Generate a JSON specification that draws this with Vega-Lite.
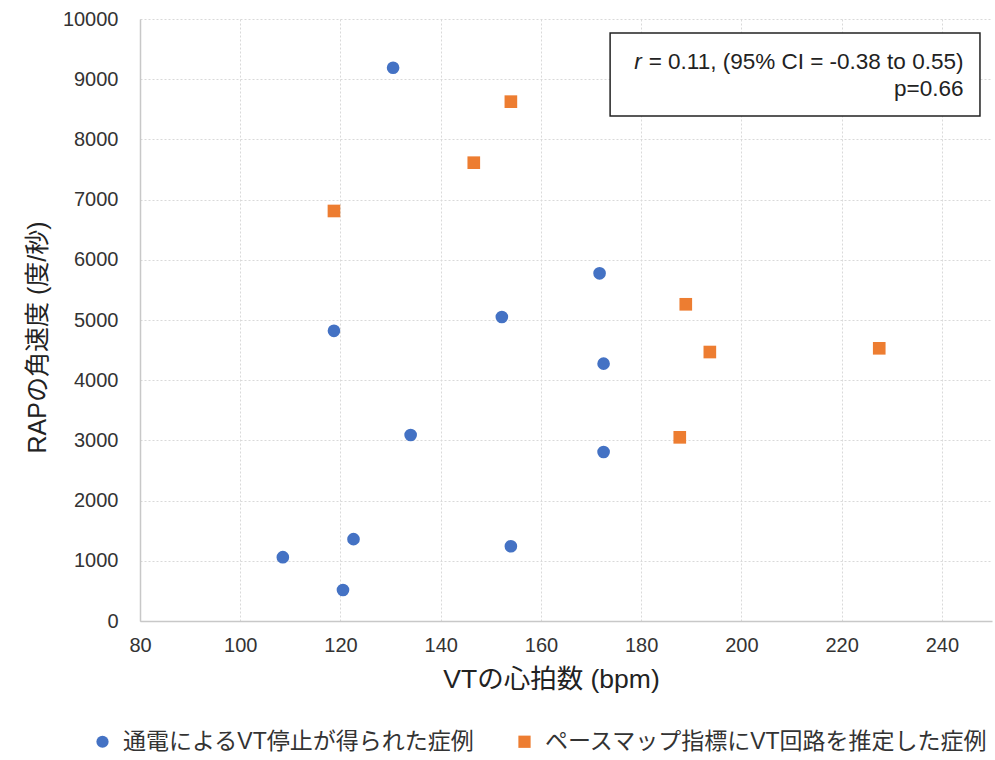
{
  "$schema": "https://vega.github.io/schema/vega-lite/v6.json",
  "width": 852,
  "height": 602,
  "autosize": {"type": "none"},
  "padding": {"left": 140, "top": 19, "right": 3, "bottom": 139},
  "background": "white",
  "config": {
    "font": "Liberation Sans, Noto Sans CJK JP",
    "view": {"stroke": null},
    "axis": {
      "gridColor": "#d9d9d9",
      "gridDash": [2, 2],
      "gridWidth": 1,
      "domainColor": "#c8c8c8",
      "domainWidth": 1.5,
      "ticks": false,
      "labelColor": "#333333",
      "labelFontSize": 20,
      "titleColor": "#222222",
      "titleFontSize": 24,
      "titleFontWeight": "normal",
      "labelFont": "Liberation Sans",
      "titleFont": "Liberation Sans, Noto Sans CJK JP",
      "labelFlush": false
    }
  },
  "layer": [
    {
      "data": {
        "values": [
          {"hr": 130.5, "rap": 9190, "group": "通電によるVT停止が得られた症例"},
          {"hr": 118.7, "rap": 4820, "group": "通電によるVT停止が得られた症例"},
          {"hr": 134.0, "rap": 3090, "group": "通電によるVT停止が得られた症例"},
          {"hr": 108.5, "rap": 1060, "group": "通電によるVT停止が得られた症例"},
          {"hr": 122.6, "rap": 1360, "group": "通電によるVT停止が得られた症例"},
          {"hr": 120.5, "rap": 515, "group": "通電によるVT停止が得られた症例"},
          {"hr": 152.2, "rap": 5050, "group": "通電によるVT停止が得られた症例"},
          {"hr": 171.7, "rap": 5775, "group": "通電によるVT停止が得られた症例"},
          {"hr": 172.5, "rap": 4275, "group": "通電によるVT停止が得られた症例"},
          {"hr": 172.5, "rap": 2807, "group": "通電によるVT停止が得られた症例"},
          {"hr": 154.0, "rap": 1241, "group": "通電によるVT停止が得られた症例"},
          {"hr": 118.7, "rap": 6811, "group": "ペースマップ指標にVT回路を推定した症例"},
          {"hr": 146.6, "rap": 7613, "group": "ペースマップ指標にVT回路を推定した症例"},
          {"hr": 154.0, "rap": 8627, "group": "ペースマップ指標にVT回路を推定した症例"},
          {"hr": 188.9, "rap": 5261, "group": "ペースマップ指標にVT回路を推定した症例"},
          {"hr": 193.7, "rap": 4468, "group": "ペースマップ指標にVT回路を推定した症例"},
          {"hr": 227.5, "rap": 4530, "group": "ペースマップ指標にVT回路を推定した症例"},
          {"hr": 187.7, "rap": 3051, "group": "ペースマップ指標にVT回路を推定した症例"}
        ]
      },
      "mark": {"type": "point", "filled": true, "opacity": 1, "size": 160},
      "encoding": {
        "x": {
          "field": "hr",
          "type": "quantitative",
          "scale": {"domain": [80, 250], "nice": false, "zero": false},
          "axis": {
            "title": "VTの心拍数 (bpm)",
            "titleFontSize": 26.5,
            "titleX": 411,
            "values": [80, 100, 120, 140, 160, 180, 200, 220, 240],
            "labelPadding": 14,
            "titlePadding": 11
          }
        },
        "y": {
          "field": "rap",
          "type": "quantitative",
          "scale": {"domain": [0, 10000], "nice": false},
          "axis": {
            "title": "RAPの角速度 (度/秒)",
            "titleFontSize": 25,
            "titleY": 318,
            "values": [0, 1000, 2000, 3000, 4000, 5000, 6000, 7000, 8000, 9000, 10000],
            "format": "d",
            "labelPadding": 22,
            "titlePadding": 12
          }
        },
        "color": {
          "field": "group",
          "type": "nominal",
          "scale": {
            "domain": ["通電によるVT停止が得られた症例", "ペースマップ指標にVT回路を推定した症例"],
            "range": ["#4472C4", "#ED7D31"]
          },
          "legend": {
            "title": null,
            "orient": "none",
            "direction": "horizontal",
            "legendX": -49,
            "legendY": 711,
            "labelFontSize": 23,
            "labelColor": "#333333",
            "labelFont": "Liberation Sans, Noto Sans CJK JP",
            "symbolSize": 150,
            "labelOffset": 9,
            "columnPadding": 38,
            "labelLimit": 600
          }
        },
        "shape": {
          "field": "group",
          "type": "nominal",
          "scale": {
            "domain": ["通電によるVT停止が得られた症例", "ペースマップ指標にVT回路を推定した症例"],
            "range": ["circle", "square"]
          },
          "legend": null
        }
      }
    },
    {
      "data": {"values": [{"x1": 173.8, "x2": 247.6, "y1": 8389, "y2": 9767}]},
      "mark": {"type": "rect", "fill": "white", "stroke": "#222222", "strokeWidth": 1.5},
      "encoding": {
        "x": {"field": "x1", "type": "quantitative"},
        "x2": {"field": "x2"},
        "y": {"field": "y1", "type": "quantitative"},
        "y2": {"field": "y2"}
      }
    },
    {
      "data": {
        "values": [
          {"x": 244.3, "y": 9290, "t": "= 0.11, (95% CI = -0.38 to 0.55)"},
          {"x": 244.3, "y": 8840, "t": "p=0.66"}
        ]
      },
      "mark": {"type": "text", "align": "right", "baseline": "middle", "fontSize": 22.5, "color": "#222222", "font": "Liberation Sans"},
      "encoding": {
        "x": {"field": "x", "type": "quantitative"},
        "y": {"field": "y", "type": "quantitative"},
        "text": {"field": "t"}
      }
    },
    {
      "data": {"values": [{"x": 178.6, "y": 9290, "t": "r"}]},
      "mark": {"type": "text", "align": "left", "baseline": "middle", "fontSize": 22.5, "fontStyle": "italic", "color": "#222222", "font": "Liberation Sans"},
      "encoding": {
        "x": {"field": "x", "type": "quantitative"},
        "y": {"field": "y", "type": "quantitative"},
        "text": {"field": "t"}
      }
    }
  ]
}
